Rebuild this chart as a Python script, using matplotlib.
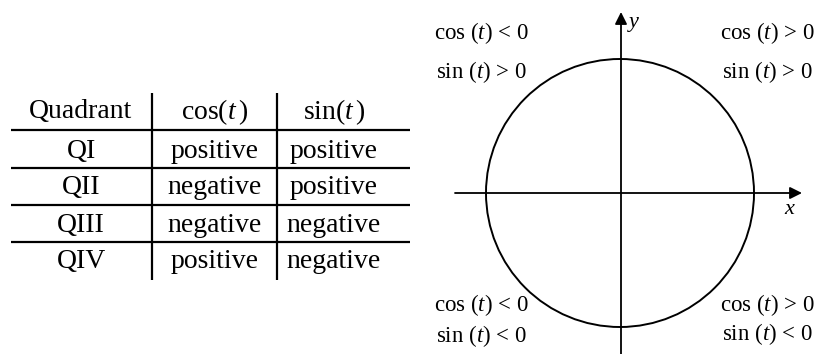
import matplotlib
matplotlib.use('Agg')
import matplotlib.pyplot as plt
from matplotlib.patches import Circle

# --- data ---
headers = ['Quadrant', r'cos$(t\,)$', r'sin$(t\,)$']
quadrants = ['QI', 'QII', 'QIII', 'QIV']
cos_signs = ['positive', 'negative', 'negative', 'positive']
sin_signs = ['positive', 'positive', 'negative', 'negative']
corner_cos = ['cos $(t)$ < 0', 'cos $(t)$ > 0', 'cos $(t)$ < 0', 'cos $(t)$ > 0']
corner_sin = ['sin $(t)$ > 0', 'sin $(t)$ > 0', 'sin $(t)$ < 0', 'sin $(t)$ < 0']

plt.rcParams['font.family'] = ['Liberation Serif', 'DejaVu Serif']
plt.rcParams['mathtext.fontset'] = 'custom'
plt.rcParams['mathtext.rm'] = 'Liberation Serif'
plt.rcParams['mathtext.it'] = 'Liberation Serif:italic'

fig = plt.figure(figsize=(8.15, 3.54), dpi=100, facecolor='white')
ax = fig.add_axes([0, 0, 1, 1])
ax.set_xlim(0, 815)
ax.set_ylim(354, 0)
ax.set_axis_off()

# --- table ---
col_x = [81, 215, 334]
header_y = 112
row_y = [151, 188, 225, 262]
table_fs = 20

for x, h in zip(col_x, headers):
    ax.text(x, header_y, h, ha='center', va='center', fontsize=table_fs)
for i, (q, c, s) in enumerate(zip(quadrants, cos_signs, sin_signs)):
    ax.text(col_x[0], row_y[i], q, ha='center', va='center', fontsize=table_fs)
    ax.text(col_x[1], row_y[i], c, ha='center', va='center', fontsize=table_fs)
    ax.text(col_x[2], row_y[i], s, ha='center', va='center', fontsize=table_fs)

for y in [130, 168, 205, 242]:
    ax.plot([11, 410], [y, y], color='black', lw=1.6, solid_capstyle='butt')
for x in [152, 277]:
    ax.plot([x, x], [93, 280], color='black', lw=1.6, solid_capstyle='butt')

# --- unit circle ---
cx, cy, r = 620, 193, 134
ax.add_patch(Circle((cx, cy), r, fill=False, ec='black', lw=1.4))

arrow = dict(arrowstyle='-|>', color='black', lw=1.3, mutation_scale=18,
             shrinkA=0, shrinkB=0)
ax.annotate('', xy=(802, cy), xytext=(455, cy), arrowprops=arrow)
ax.annotate('', xy=(621, 12), xytext=(621, 354), arrowprops=arrow)
ax.text(789, 210, 'x', fontsize=16, style='italic', ha='center', va='center')
ax.text(634, 22, 'y', fontsize=16, style='italic', ha='center', va='center')

lab_fs = 16.5
pos = [(481, 33, 72), (767, 33, 72), (481, 305, 336), (767, 305, 334)]
for (x, y1, y2), c, s in zip(pos, corner_cos, corner_sin):
    ax.text(x, y1, c, ha='center', va='center', fontsize=lab_fs)
    ax.text(x, y2, s, ha='center', va='center', fontsize=lab_fs)

fig.savefig('out.png', dpi=100, facecolor='white')
